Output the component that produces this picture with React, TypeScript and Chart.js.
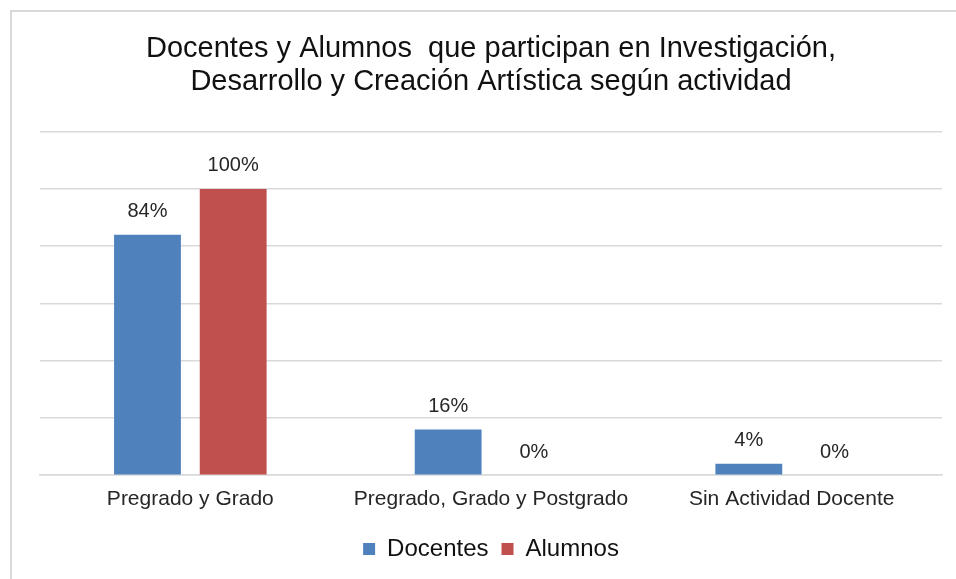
import React, { useEffect, useRef } from "react";
import { Chart, registerables } from "chart.js";

Chart.register(...registerables);

const categories = ["Pregrado y Grado", "Pregrado, Grado y Postgrado", "Sin Actividad Docente"];
const docentes = [84, 16, 4];
const alumnos = [100, 0, 0];
const seriesNames = ["Docentes", "Alumnos"];
const seriesColors = ["#4F81BD", "#C0504D"];
const titleLines = [
  "Docentes y Alumnos  que participan en Investigación,",
  "Desarrollo y Creación Artística según actividad",
];
const yMin = 0;
const yMax = 120;
const yStep = 20;

const FONT = "'Liberation Sans', Arial, sans-serif";

const valueLabels = {
  id: "valueLabels",
  afterDatasetsDraw(chart: any) {
    const ctx = chart.ctx;
    ctx.save();
    ctx.font = `20px ${FONT}`;
    ctx.fillStyle = "#262626";
    ctx.textAlign = "center";
    ctx.textBaseline = "middle";
    chart.data.datasets.forEach((ds: any, i: number) => {
      const meta = chart.getDatasetMeta(i);
      meta.data.forEach((bar: any, j: number) => {
        ctx.fillText(`${ds.data[j]}%`, bar.x, bar.y - 23);
      });
    });
    ctx.restore();
  },
};

export default function App() {
  const canvasRef = useRef<HTMLCanvasElement | null>(null);

  useEffect(() => {
    if (!canvasRef.current) return;
    const chart = new Chart(canvasRef.current, {
      type: "bar",
      data: {
        labels: categories,
        datasets: [
          {
            label: seriesNames[0],
            data: docentes,
            backgroundColor: seriesColors[0],
            categoryPercentage: 0.57,
            barPercentage: 0.78,
          },
          {
            label: seriesNames[1],
            data: alumnos,
            backgroundColor: seriesColors[1],
            categoryPercentage: 0.57,
            barPercentage: 0.78,
          },
        ],
      },
      options: {
        responsive: false,
        animation: false,
        layout: { padding: { left: 40, right: 14, top: 0, bottom: 8 } },
        plugins: {
          title: {
            display: true,
            text: titleLines,
            color: "#111111",
            font: { family: FONT, size: 29, weight: "normal", lineHeight: 1.15 },
            padding: { top: 32, bottom: 33 },
          },
          legend: {
            display: true,
            position: "bottom",
            labels: {
              color: "#111111",
              font: { family: FONT, size: 24 },
              boxWidth: 12,
              boxHeight: 12,
              padding: 13,
            },
          },
          tooltip: { enabled: false },
        },
        scales: {
          x: {
            grid: { display: false, drawTicks: false },
            border: { display: true, color: "#D9D9D9", width: 1.5 },
            ticks: {
              color: "#262626",
              font: { family: FONT, size: 21, lineHeight: 1.2 },
              padding: 11.8,
              maxRotation: 0,
            },
          },
          y: {
            min: yMin,
            max: yMax,
            ticks: { display: false, stepSize: yStep },
            grid: { color: "#D9D9D9", lineWidth: 1.5, drawTicks: false },
            border: { display: false },
          },
        },
      },
      plugins: [valueLabels],
    });
    return () => chart.destroy();
  }, []);

  return (
    <div style={{ position: "fixed", left: 0, top: 0, width: "100vw", height: "100vh", overflow: "hidden", background: "#fff" }}>
      <div
        style={{
          position: "absolute",
          left: 10,
          top: 10,
          width: 3000,
          height: 3000,
          borderLeft: "2px solid #D9D9D9",
          borderTop: "2px solid #D9D9D9",
          boxSizing: "border-box",
        }}
      />
      <canvas
        ref={canvasRef}
        width={956}
        height={579}
        style={{ position: "absolute", left: 0, top: 0, width: 956, height: 579 }}
      />
    </div>
  );
}
